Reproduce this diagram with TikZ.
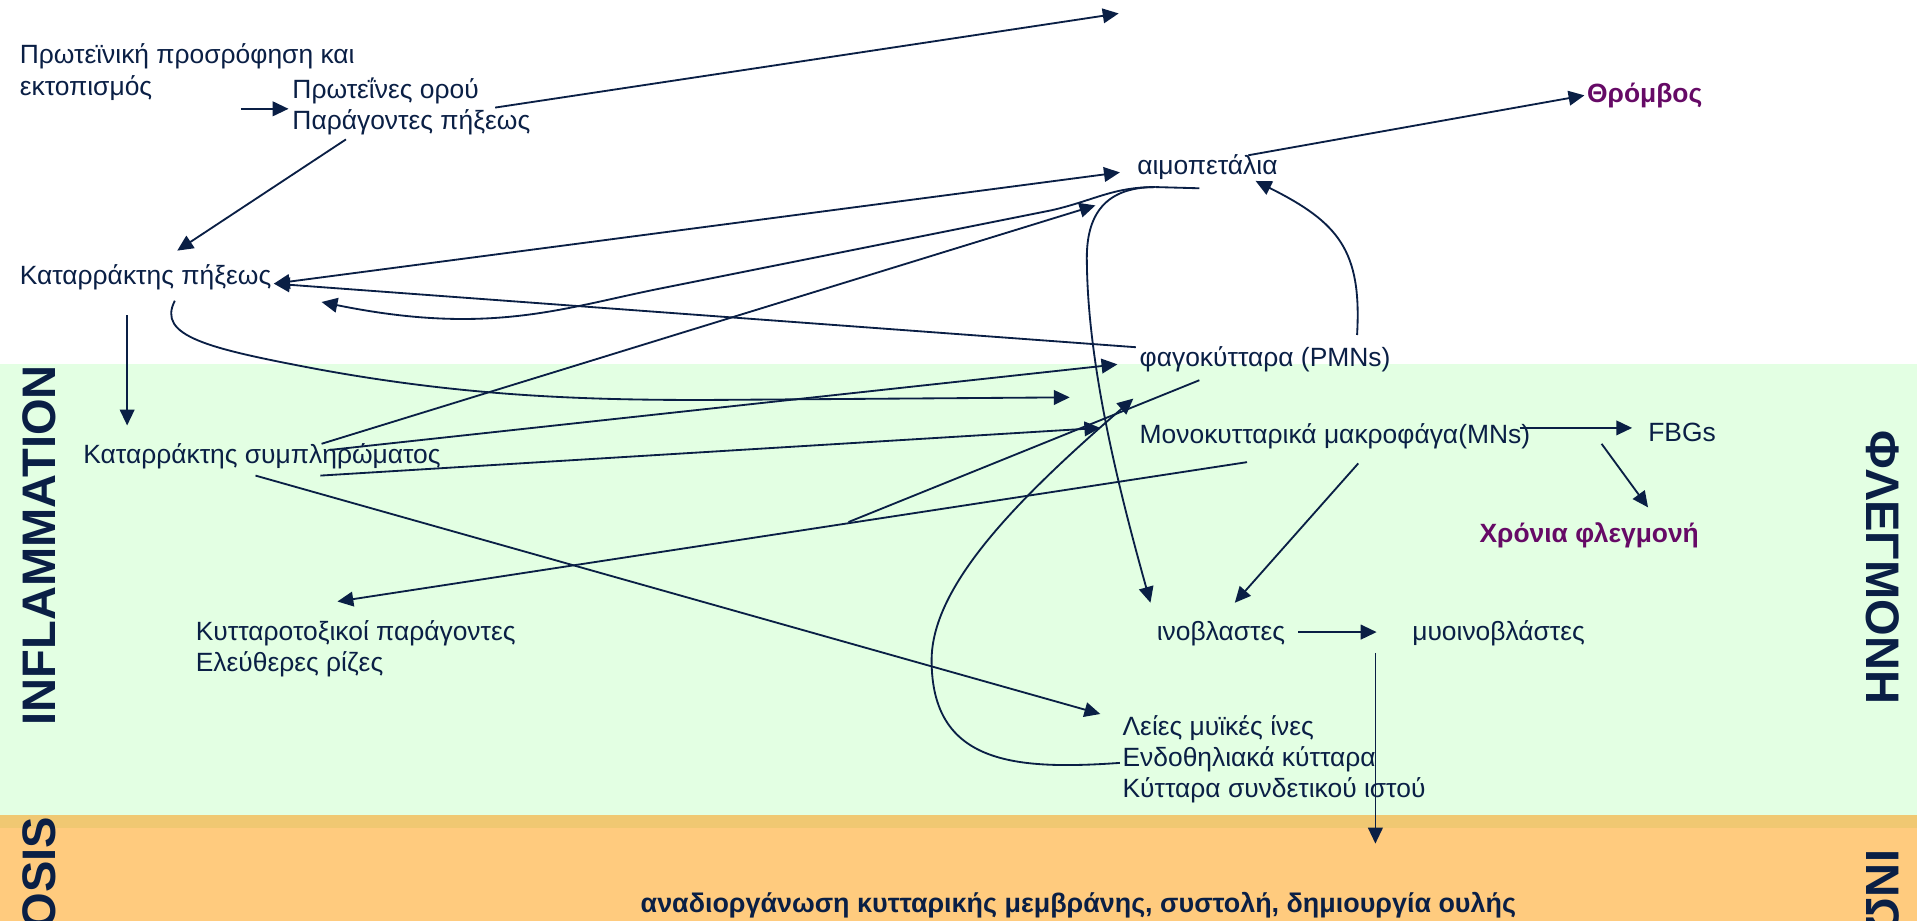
\documentclass[tikz,border=0pt]{standalone}
\usepackage{fontspec}
\setmainfont{Liberation Sans}
\usetikzlibrary{arrows.meta}
\definecolor{navy}{HTML}{0A1F45}
\definecolor{plum}{HTML}{660A66}
\definecolor{bggreen}{HTML}{E3FFE3}
\definecolor{bgorange}{HTML}{FFCB7E}
\definecolor{bgstrip}{HTML}{F0C872}
\begin{document}
\begin{tikzpicture}[x=1pt,y=-1pt,
 lbl/.style={inner sep=0pt, anchor=west, align=left, text=navy, font=\fontsize{21.6}{25.5}\selectfont},
 hot/.style={inner sep=0pt, anchor=west, text=plum, font=\bfseries\fontsize{21.6}{25.5}\selectfont},
 side/.style={inner sep=0pt, text=navy, font=\bfseries\fontsize{38.5}{40}\selectfont},
 link/.style={draw=navy, line width=1.5pt},
 arr/.style={link, -{Triangle[length=13pt,width=12pt]}},
 dbl/.style={link, {Triangle[length=13pt,width=12pt]}-{Triangle[length=13pt,width=12pt]}},
]
\useasboundingbox (0,0) rectangle (1568,753);
\fill[white] (0,0) rectangle (1568,753);
\fill[bggreen] (0,298) rectangle (1568,667);
\fill[bgstrip] (0,667) rectangle (1568,677);
\fill[bgorange] (0,677) rectangle (1568,753);

% side titles
\node[side, rotate=90] (inf) at (32,446) {INFLAMMATION};
\node[side, rotate=-90] (fleg) at (1540,464) {ΦΛΕΓΜΟΝΗ};
\node[side, rotate=90, anchor=east] (fib) at (32,668) {ROSIS};
\node[side, rotate=-90, anchor=west] (ino-side) at (1540,695) {ΙΝΩ};

% text nodes
\node[lbl] (n1) at (16,59) {Πρωτεϊνική προσρόφηση και\\εκτοπισμός};
\node[lbl] (n2) at (239,87) {Πρωτεΐνες ορού\\Παράγοντες πήξεως};
\node[lbl] (kp) at (16,227) {Καταρράκτης πήξεως};
\node[lbl] (ks) at (68,373) {Καταρράκτης συμπληρώματος};
\node[lbl] (kt) at (160,531) {Κυτταροτοξικοί παράγοντες\\Ελεύθερες ρίζες};
\node[lbl] (aim) at (930,137) {αιμοπετάλια};
\node[hot] (thr) at (1298,78) {Θρόμβος};
\node[lbl] (fag) at (932,294) {φαγοκύτταρα (PMNs)};
\node[lbl] (mon) at (932,357) {Μονοκυτταρικά μακροφάγα(MNs)};
\node[lbl] (fbg) at (1348,354) {FBGs};
\node[hot] (xf) at (1210,438) {Χρόνια φλεγμονή};
\node[lbl] (ino) at (946,518) {ινοβλαστες};
\node[lbl] (myo) at (1155,518) {μυοινοβλάστες};
\node[lbl] (lei) at (918,621) {Λείες μυϊκές ίνες\\Ενδοθηλιακά κύτταρα\\Κύτταρα συνδετικού ιστού};
\node[inner sep=0pt, text=navy, font=\bfseries\fontsize{22}{26}\selectfont] (bot) at (882,740) {αναδιοργάνωση κυτταρικής μεμβράνης, συστολή, δημιουργία ουλής};

% connector ends
\coordinate (n1-out) at (197,89);
\coordinate (n2-in) at (236,89);
\coordinate (n2-up) at (405,88);
\coordinate (top-end) at (915,11);
\coordinate (n2-down) at (283,114);
\coordinate (kp-top) at (145,205);
\coordinate (kp-bot) at (104,258);
\coordinate (ks-top) at (104,348);
\coordinate (kp-in) at (224,232);
\coordinate (aim-in) at (916,141);
\coordinate (fag-nw) at (929,284);
\coordinate (kp-in2) at (263,247);
\coordinate (aim-u1) at (981,154);
\coordinate (aim-u2) at (945,153);
\coordinate (ks-a) at (263,363);
\coordinate (aim-in2) at (896,168);
\coordinate (ks-b) at (270,368);
\coordinate (fag-in) at (914,298);
\coordinate (ks-c) at (262,389);
\coordinate (mon-in) at (900,350);
\coordinate (ks-d) at (209,389);
\coordinate (lei-in) at (900,584);
\coordinate (mon-sw) at (1020,378);
\coordinate (kt-in) at (276,492);
\coordinate (fag-s) at (981,311);
\coordinate (meet) at (694,427);
\coordinate (aim-ne) at (1021,127);
\coordinate (thr-in) at (1296,78);
\coordinate (mon-e) at (1243,350);
\coordinate (fbg-in) at (1335,350);
\coordinate (fbg-s) at (1310,363);
\coordinate (xf-in) at (1348,415);
\coordinate (mon-s) at (1111,379);
\coordinate (ino-in) at (1010,493);
\coordinate (ino-in2) at (941,493);
\coordinate (ino-e) at (1062,517);
\coordinate (myo-in) at (1126,517);
\coordinate (myo-s) at (1125,534);
\coordinate (bot-in) at (1125,690);
\coordinate (fag-n) at (1110,274);
\coordinate (aim-in3) at (1027,148);
\coordinate (lei-w) at (916,624);
\coordinate (fag-in2) at (927,326);
\coordinate (kp-s) at (143,246);
\coordinate (mid-in) at (875,325);

% straight connectors
\draw[arr] (n1-out) -- (n2-in);
\draw[arr] (n2-up) -- (top-end);
\draw[arr] (n2-down) -- (kp-top);
\draw[arr] (kp-bot) -- (ks-top);
\draw[dbl] (kp-in) -- (aim-in);
\draw[arr] (fag-nw) -- (kp-in);
\draw[arr] (ks-a) -- (aim-in2);
\draw[arr] (ks-b) -- (fag-in);
\draw[arr] (ks-c) -- (mon-in);
\draw[arr] (ks-d) -- (lei-in);
\draw[arr] (mon-sw) -- (kt-in);
\draw[link] (fag-s) -- (meet);
\draw[arr] (aim-ne) -- (thr-in);
\draw[arr] (mon-e) -- (fbg-in);
\draw[arr] (fbg-s) -- (xf-in);
\draw[arr] (mon-s) -- (ino-in);
\draw[arr] (ino-e) -- (myo-in);
\draw[arr] (myo-s) -- (bot-in);

% curved connectors
\draw[link] (aim-u1) -- (aim-u2);
\draw[arr] (aim-u2) .. controls (910,153) and (895,164) .. (860,172) .. controls (720,200) and (620,220) .. (540,236) .. controls (460,252) and (400,275) .. (kp-in2);
\draw[arr] (aim-u2) .. controls (900,153) and (888,180) .. (889,215) .. controls (890,300) and (915,400) .. (ino-in2);
\draw[arr] (fag-n) .. controls (1114,205) and (1095,182) .. (aim-in3);
\draw[arr] (lei-w) .. controls (830,630) and (762,625) .. (762,540) .. controls (762,480) and (830,410) .. (fag-in2);
\draw[arr] (kp-s) .. controls (128,275) and (170,285) .. (260,302) .. controls (380,324) and (480,328) .. (600,327) -- (mid-in);
\end{tikzpicture}
\end{document}
